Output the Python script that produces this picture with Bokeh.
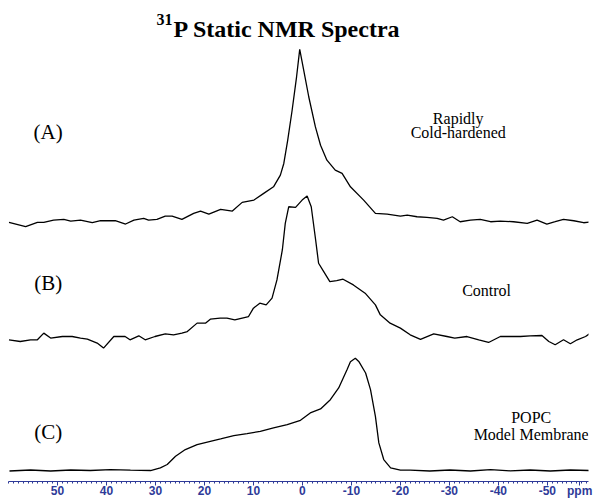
from bokeh.plotting import figure
from bokeh.models import Range1d, FixedTicker, Label
from bokeh.embed import file_html
from bokeh.resources import INLINE

# ---- data (chemical shift in ppm, intensity in arbitrary units) ----
a_ppm = [59.9, 56.5, 54.1, 52.8, 50.8, 48.7, 47.3, 45.3, 42.9, 41.2, 38.2, 36.1, 34.4, 32.4,
         31.4, 29.7, 28.0, 26.6, 24.6, 22.2, 20.8, 19.1, 16.7, 14.3, 12.3, 9.9, 7.9, 5.9,
         4.5, 3.8, 3.0, 2.1, 1.2, 0.55, -0.27, -1.3, -2.65, -3.7, -5.0, -6.7, -8.1, -9.8,
         -12.5, -14.9, -17.3, -20.0, -21.4, -23.4, -25.4, -27.5, -28.8, -30.6, -32.2, -34.3,
         -36.3, -38.4, -40.4, -43.1, -45.9, -47.9, -49.9, -51.6, -53.3, -55.4, -57.4, -58.8]
a_int = [-2.3, -6.7, -2.3, -2.3, 0, 0.7, -1, 0, -2.7, -0.7, -0.7, -4, 0, 1.7,
         0, 0.7, 4, 4, 0.7, 6.7, 9, 6, 10.7, 9, 17.7, 20, 26.7, 33.3,
         45, 56.7, 80, 110, 143.3, 171, 150, 123.3, 93.3, 75, 60, 50, 46.7, 33.3,
         20, 6.7, 6, 4, 5, 3.3, 2.7, 1.7, 0, 3.3, -1.7, 0,
         0.7, -1.7, -1, -1.7, -3.3, 0, -4, -1.7, 0.7, -0.7, -2.7, -2]

b_ppm = [59.9, 57.6, 55.5, 54.1, 52.8, 51.4, 49.0, 47.0, 45.3, 43.9, 41.9, 40.6, 38.5, 36.2,
         35.2, 33.4, 32.1, 30.1, 28.0, 26.3, 24.6, 23.5, 21.5, 19.8, 18.8, 16.8, 15.4, 13.8,
         11.0, 10.0, 8.7, 7.4, 6.2, 5.2, 4.1, 3.5, 2.8, 1.4, 0.06, -0.96, -1.8, -2.7, -3.3,
         -4.35, -5.6, -7.0, -8.3, -10.4, -12.8, -14.9, -15.9, -17.9, -20.0, -22.0, -24.1,
         -26.8, -29.5, -31.1, -33.6, -36.0, -38.0, -40.4, -42.4, -44.5, -46.5, -48.9, -50.3,
         -51.6, -53.3, -54.7, -56.1, -57.8, -58.8]
b_int = [-1, -2.7, -1, -1, 5.7, 0.7, 2.3, 2.3, 0.7, -0.3, -4.3, -9.3, 2.3, 2.3,
         -1, 3, -1, 2.3, 5, 4, 5.7, 7.3, 15.7, 15.7, 19.7, 20.7, 20.7, 19,
         22.3, 30.7, 35.7, 34, 40.7, 59, 89, 115.7, 132.3, 131.7, 139, 143, 132.3, 99, 75.7,
         67.3, 57.3, 58.3, 59.7, 54, 45.7, 34, 24, 15.7, 10.7, 4, -0.5,
         5, 2.3, 0.7, 2.3, -1, -3.7, 2.3, 2.3, 2.3, 3, 3.3, -2.7,
         -6, -1, -5, -1, 2.3, 5.7]

c_ppm = [59.8, 55.5, 51.4, 47.3, 43.3, 39.2, 35.1, 31.0, 29.0, 27.6, 25.9, 23.9, 21.5, 18.8,
         16.7, 14.0, 11.3, 8.6, 5.9, 3.1, 0.4, -1.6, -3.7, -5.7, -7.4, -9.1, -9.8, -10.8,
         -11.5, -12.9, -13.9, -14.9, -15.6, -16.6, -18.0, -20.0, -22.0, -26.0, -30.1, -34.3,
         -38.4, -42.4, -46.5, -50.6, -54.7, -58.8]
c_int = [-0.5, 0.5, -0.5, 0.5, 0, 1, 0.3, 0, 2.7, 6, 14.3, 21, 26, 29.3,
         31.7, 35, 37, 39.3, 42.7, 46, 50.3, 57.7, 61.7, 71, 82.7, 101, 109, 112.5,
         109.3, 97.7, 81, 54.3, 27.7, 11, 2.7, 0.3, 0.3, -0.5, 0.5, -0.5,
         1, -0.3, 0.5, -0.5, 0.5, 0]

tick_values = [50, 40, 30, 20, 10, 0, -10, -20, -30, -40, -50]
tick_labels = ["50", "40", "30", "20", "10", "0", "-10", "-20", "-30", "-40", "-50"]
unit_tick = -56.6
unit_label = "ppm"
minor_tick_values = list(range(-58, 61))

panel_labels = ["(A)", "(B)", "(C)"]
sample_names = [["Rapidly", "Cold-hardened"], ["Control"], ["POPC", "Model Membrane"]]

# ---- layout / styling ----
offsets = [265, 146, 14]
BLUE = "#2e3a98"
SERIF = "Liberation Serif"

p = figure(width=593, height=500, output_backend="svg", toolbar_location=None,
           x_range=Range1d(60, -58.4), y_range=Range1d(3, 485),
           min_border_left=8, min_border_right=5, min_border_top=0, min_border_bottom=15)
p.outline_line_color = None
p.background_fill_color = "white"
p.xgrid.visible = False
p.ygrid.visible = False
p.yaxis.visible = False

ax = p.xaxis[0]
ax.ticker = FixedTicker(ticks=tick_values + [unit_tick], minor_ticks=minor_tick_values)
overrides = {v: s for v, s in zip(tick_values, tick_labels)}
overrides[unit_tick] = unit_label
ax.major_label_overrides = overrides
ax.axis_line_color = BLUE
ax.axis_line_width = 1
ax.major_tick_line_color = BLUE
ax.minor_tick_line_color = BLUE
ax.major_tick_in = 0
ax.major_tick_out = 4
ax.minor_tick_in = 0
ax.minor_tick_out = 2
ax.major_label_standoff = -2
ax.major_label_text_color = BLUE
ax.major_label_text_font = "Liberation Sans"
ax.major_label_text_font_style = "bold"
ax.major_label_text_font_size = "12px"

for xs, ys, off in zip([a_ppm, b_ppm, c_ppm], [a_int, b_int, c_int], offsets):
    p.line(xs, [v + off for v in ys], line_color="black", line_width=1.3)

# title with superscript
p.add_layout(Label(x=26.3, y=456, text="P Static NMR Spectra", text_font=SERIF,
                   text_font_style="bold", text_font_size="24px", text_align="left",
                   text_baseline="alphabetic", text_color="black"))
p.add_layout(Label(x=26.5, y=466, text="31", text_font=SERIF,
                   text_font_style="bold", text_font_size="16px", text_align="right",
                   text_baseline="alphabetic", text_color="black"))

panel_y = [353, 202, 53]
for lab, yy in zip(panel_labels, panel_y):
    p.add_layout(Label(x=51.9, y=yy, text=lab, text_font=SERIF, text_font_size="21px",
                       text_align="center", text_baseline="alphabetic", text_color="black"))

name_pos = [(-31.8, [367, 352.7]), (-37.6, [194]), (-46.7, [67, 50])]
for lines, (nx, ys) in zip(sample_names, name_pos):
    for t, yy in zip(lines, ys):
        p.add_layout(Label(x=nx, y=yy, text=t, text_font=SERIF, text_font_size="16px",
                           text_align="center", text_baseline="alphabetic", text_color="black"))

open("out.html", "w").write(file_html(p, INLINE))
